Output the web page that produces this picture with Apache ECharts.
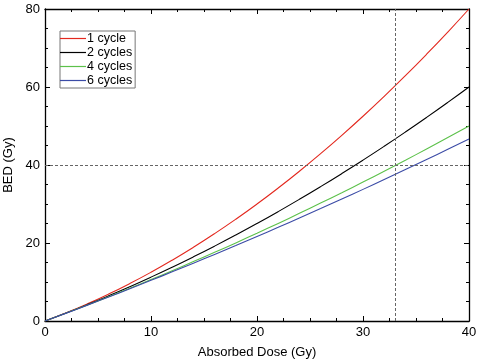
<!DOCTYPE html>
<html><head><meta charset="utf-8">
<script src="https://cdn.jsdelivr.net/npm/echarts@6/dist/echarts.min.js"></script>
<style>html,body{margin:0;padding:0;background:#fff}#c{width:477px;height:360px}</style>
</head><body><div id="c"></div>
<script>
const dose = [0,2,4,6,8,10,12,14,16,18,20,22,24,26,28,30,32,34,36,38,40];
const bed1 = [0,2.1,4.4,6.9,9.6,12.5,15.6,18.9,22.4,26.1,30,34.1,38.4,42.9,47.6,52.5,57.6,62.9,68.4,74.1,80];
const bed2 = [0,2.05,4.2,6.45,8.8,11.25,13.8,16.45,19.2,22.05,25,28.05,31.2,34.45,37.8,41.25,44.8,48.45,52.2,56.05,60];
const bed4 = [0,2.03,4.1,6.23,8.4,10.63,12.9,15.23,17.6,20.03,22.5,25.03,27.6,30.23,32.9,35.63,38.4,41.23,44.1,47.03,50];
const bed6 = [0,2.02,4.07,6.15,8.27,10.42,12.6,14.82,17.07,19.35,21.67,24.02,26.4,28.82,31.27,33.75,36.27,38.82,41.4,44.02,46.67];
const seriesNames = ['1 cycle','2 cycles','4 cycles','6 cycles'];
const refX = 33, refY = 40;

const colors = ['#e3281e','#000000','#5cc14a','#3b4ba6'];
const font = 'Liberation Sans, Arial, Helvetica, sans-serif';
const pair = arr => dose.map((d,i)=>[d,arr[i]]);
const chart = echarts.init(document.getElementById('c'));
const axisCommon = {
  axisLine:{show:true,onZero:false,lineStyle:{color:'#000',width:1.3}},
  axisTick:{show:true,inside:true,length:5,lineStyle:{color:'#000',width:1}},
  minorTick:{show:true,splitNumber:4,length:3,lineStyle:{color:'#000',width:1}},
  splitLine:{show:false}
};
chart.setOption({
  animation:false,
  grid:{left:45,right:8,top:9,bottom:39,containLabel:false,outerBoundsMode:'none'},
  legend:{
    orient:'vertical',left:60,top:31,
    data:seriesNames.map(n=>({name:n,icon:'path://M0,0 L26,0 L26,1.2 L0,1.2 Z'})),
    itemWidth:26,itemHeight:13,itemGap:1,symbolKeepAspect:true,
    padding:[1,3,1,0],
    borderColor:'#777',borderWidth:1,backgroundColor:'#fff',
    textStyle:{fontFamily:font,fontSize:12.5,color:'#000',padding:[0,0,0,-4]}
  },
  xAxis:[
    Object.assign({type:'value',min:0,max:40,interval:10,position:'bottom',
      name:'Absorbed Dose (Gy)',nameLocation:'middle',nameGap:25,
      nameTextStyle:{fontFamily:font,fontSize:13,color:'#000'},
      axisLabel:{fontFamily:font,fontSize:13,color:'#000',margin:5}},axisCommon),
    Object.assign({type:'value',min:0,max:40,interval:10,position:'top',axisLabel:{show:false}},axisCommon)
  ],
  yAxis:[
    Object.assign({type:'value',min:0,max:80,interval:20,position:'left',
      name:'BED (Gy)',nameLocation:'middle',nameGap:30,
      nameTextStyle:{fontFamily:font,fontSize:13,color:'#000'},
      axisLabel:{fontFamily:font,fontSize:13,color:'#000',margin:5}},axisCommon),
    Object.assign({type:'value',min:0,max:80,interval:20,position:'right',axisLabel:{show:false}},axisCommon)
  ],
  series:[bed1,bed2,bed4,bed6].map((arr,i)=>({
    name:seriesNames[i],type:'line',data:pair(arr),smooth:true,symbol:'none',
    lineStyle:{color:colors[i],width:1.1},itemStyle:{color:colors[i]},
    markLine: i===0 ? {
      silent:true,symbol:'none',label:{show:false},
      lineStyle:{color:'#666',type:[3,2],width:1},
      data:[{xAxis:refX},{yAxis:refY}]
    } : undefined,
    z: 3
  }))
});
</script></body></html>
